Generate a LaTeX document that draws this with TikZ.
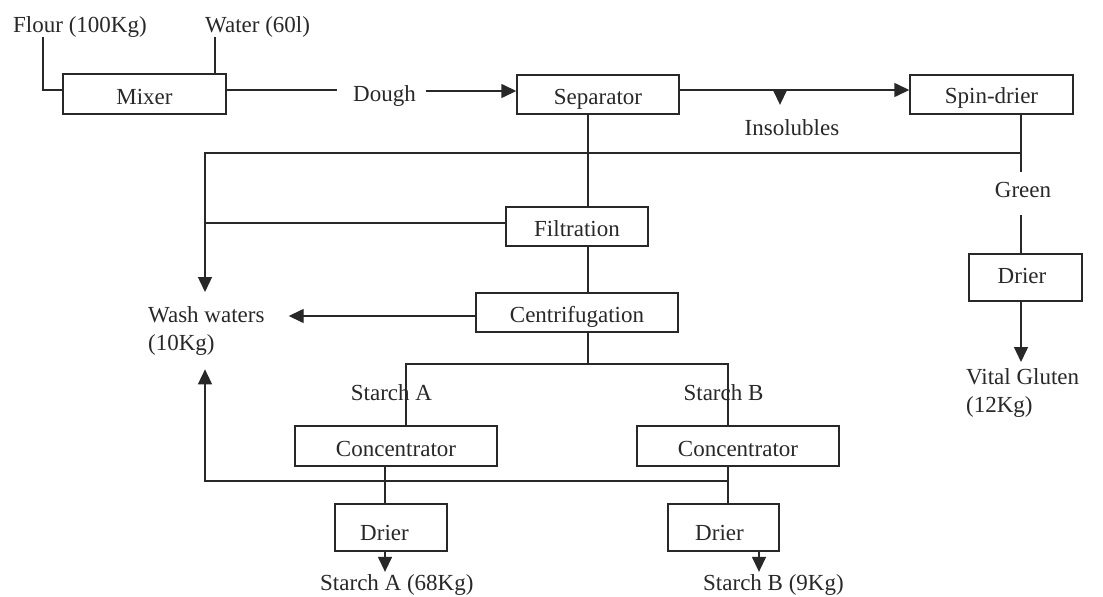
\documentclass[tikz,border=0pt]{standalone}
\usepackage{fontspec}
\setmainfont{Liberation Serif}
\usetikzlibrary{arrows.meta}
\definecolor{ink}{RGB}{40,40,40}
\begin{document}
\begin{tikzpicture}[x=1pt,y=-1pt,
  every node/.style={font=\fontsize{23}{28}\selectfont, text=ink},
  proc/.style={draw=ink, line width=1.4pt, rectangle, inner sep=0pt,
    text height=20pt, text depth=0pt},
  lbl/.style={inner sep=0pt},
  flow/.style={draw=ink, line width=1.4pt},
  flowto/.style={flow, -{Triangle[length=15pt,width=14pt]}},
]
\useasboundingbox (0,0) rectangle (1103,597);
\fill[white] (0,0) rectangle (1103,597);

% guide lines for the connectors
\coordinate (xFl) at (43,0);
\coordinate (xWa) at (215,0);
\coordinate (xL)  at (205,0);
\coordinate (xS)  at (588,0);
\coordinate (xR)  at (1021,0);
\coordinate (xA)  at (406,0);
\coordinate (xA2) at (385,0);
\coordinate (xB)  at (728,0);
\coordinate (xBa) at (759,0);
\coordinate (rTop) at (0,90);
\coordinate (rRec) at (0,153);
\coordinate (rFil) at (0,223);
\coordinate (rWsh) at (0,316);
\coordinate (rSpl) at (0,364);
\coordinate (rRet) at (0,481);
\coordinate (tri)  at (780,91);

% process boxes
\node (mixer)  [proc, minimum width=163pt, minimum height=40pt] at (144.5,94)  {Mixer};
\node (sep)    [proc, minimum width=162pt, minimum height=39pt] at (598,94.5)  {Separator};
\node (spin)   [proc, minimum width=163pt, minimum height=39pt, text height=17pt] at (991.5,94.5) {Spin-drier};
\node (filt)   [proc, minimum width=142pt, minimum height=39pt] at (577,226.5) {Filtration};
\node (cent)   [proc, minimum width=202pt, minimum height=39pt] at (577,312.5) {Centrifugation};
\node (concA)  [proc, minimum width=202pt, minimum height=40pt] at (396,446)   {Concentrator};
\node (concB)  [proc, minimum width=202pt, minimum height=40pt] at (738,446)   {Concentrator};
\node (drierA) [proc, minimum width=112pt, minimum height=47pt, text height=25pt] at (391,527.5) {\hspace*{-13pt}Drier};
\node (drierB) [proc, minimum width=111pt, minimum height=47pt, text height=25pt] at (723.5,527.5) {\hspace*{-8pt}Drier};
\node (drierR) [proc, minimum width=113pt, minimum height=47pt, text height=11pt] at (1025.5,277.5) {\hspace*{-7pt}Drier};

% stream labels
\node (flour) [lbl, anchor=base west] at (13,32)  {Flour (100Kg)};
\node (water) [lbl, anchor=base west] at (205,32) {Water (60l)};
\node (dough) [lbl, anchor=base west] at (353,101) {Dough};
\node (insol) [lbl, anchor=base] at (792,135) {Insolubles};
\node (green) [lbl, anchor=base, text height=25pt, text depth=18pt] at (1023,197) {Green};
\node (wash)  [lbl, align=left, anchor=north west, inner ysep=14pt] at (148,292) {Wash waters\\(10Kg)};
\node (vg)    [lbl, align=left, anchor=north west, inner ysep=6pt] at (966,362) {Vital Gluten\\(12Kg)};
\node (stA)   [lbl, anchor=base] at (391.5,400) {Starch A};
\node (stB)   [lbl, anchor=base] at (723.5,400) {Starch B};
\node (stAkg) [lbl, anchor=base west] at (320,590) {Starch A (68Kg)};
\node (stBkg) [lbl, anchor=base west] at (703,590) {Starch B (9Kg)};

% feed and dough line
\draw[flow] (flour.south -| xFl) |- (mixer.west |- rTop);
\draw[flow] (water.south -| xWa) -- (mixer.north -| xWa);
\draw[flow] (mixer.east |- rTop) -- ([xshift=-16pt]dough.west |- rTop);
\draw[flowto] ([xshift=10pt]dough.east |- tri) -- (sep.west |- tri);

% separator outputs
\draw[flowto] (sep.east |- rTop) -- (spin.west |- rTop);
\draw[flowto, shorten >=14pt] (tri) -- (insol.north -| tri);
\draw[flow] (sep.south -| xS) -- (filt.north -| xS);
\draw[flow] (filt.south -| xS) -- (cent.north -| xS);

% gluten line
\draw[flow] (spin.south -| xR) -- (green.north -| xR);
\draw[flow] (green.south -| xR) -- (drierR.north -| xR);
\draw[flowto] (drierR.south -| xR) -- (vg.north -| xR);

% wash water collection
\draw[flowto] (rRec -| xR) -- (rRec -| xL) -- (wash.north -| xL);
\draw[flow] (filt.west |- rFil) -- (rFil -| xL);
\draw[flowto] (cent.west |- rWsh) -- ([xshift=24pt]wash.east |- rWsh);
\draw[flowto] (rRet -| xB) -- (rRet -| xL) -- (wash.south -| xL);

% starch split
\draw[flow] (cent.south -| xS) -- (rSpl -| xS);
\draw[flow] (concA.north -| xA) -- (rSpl -| xA) -- (rSpl -| xB) -- (concB.north -| xB);
\draw[flow] (concA.south -| xA2) -- (drierA.north -| xA2);
\draw[flow] (concB.south -| xB) -- (drierB.north -| xB);
\draw[flowto, shorten >=2pt] (drierA.south -| xA2) -- (stAkg.north -| xA2);
\draw[flowto, shorten >=2pt] (drierB.south -| xBa) -- (stBkg.north -| xBa);
\end{tikzpicture}
\end{document}
